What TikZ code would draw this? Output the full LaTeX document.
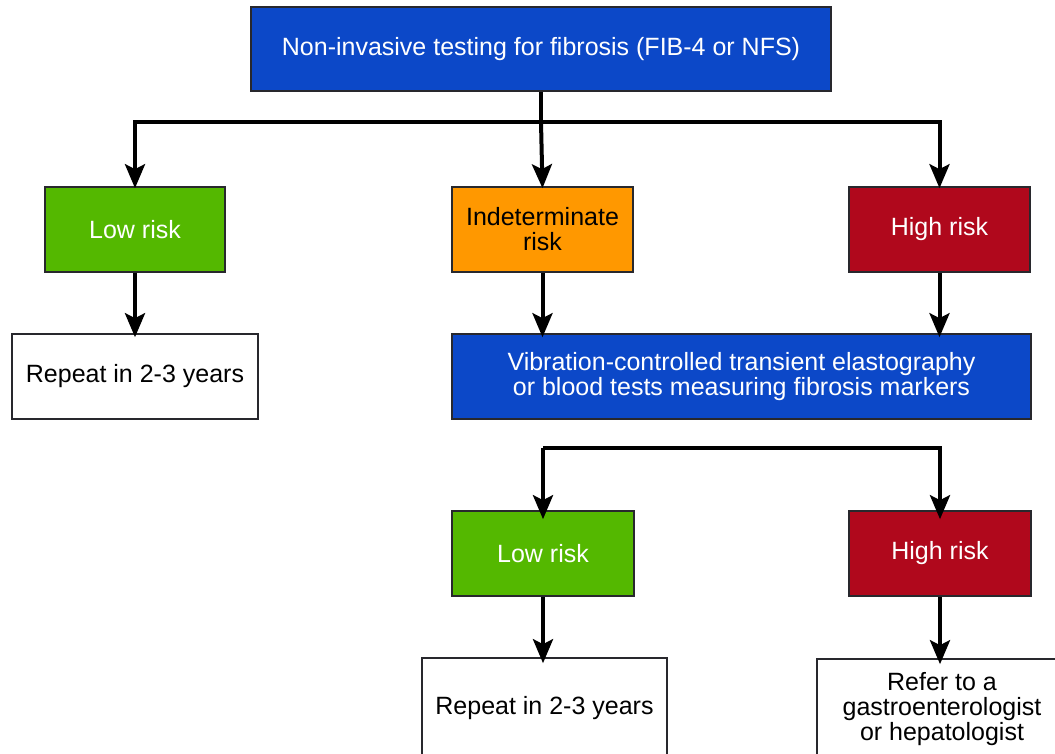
\documentclass[tikz,border=0pt]{standalone}
\usepackage{fontspec}
\setmainfont{Liberation Sans}
\usetikzlibrary{arrows.meta}
\definecolor{boxblue}{RGB}{12,72,200}
\definecolor{boxgreen}{RGB}{84,184,0}
\definecolor{boxorange}{RGB}{255,152,0}
\definecolor{boxred}{RGB}{176,8,28}
\definecolor{edgegray}{RGB}{40,40,45}
\begin{document}
\begin{tikzpicture}[x=1pt,y=-1pt,
  box/.style={draw=edgegray,line width=1.6pt,rectangle,inner sep=0pt,align=center,
    font=\fontsize{25}{25}\selectfont},
  fillbox/.style={box,text=white},
  bluebox/.style={fillbox,fill=boxblue},
  greenbox/.style={fillbox,fill=boxgreen},
  orangebox/.style={box,fill=boxorange,text=black},
  redbox/.style={fillbox,fill=boxred},
  whitebox/.style={box,fill=white,text=black},
  conn/.style={line width=4pt,miter limit=10,-{Stealth[length=24pt,width=20pt,inset=5pt]}},
  trunk/.style={line width=4pt}]
\useasboundingbox (0,0) rectangle (1055,754);
\begin{scope}
\clip (0,0) rectangle (1055,754);
% first level
\node[bluebox,minimum width=580pt,minimum height=84pt] (top) at (541,49)
  {Non-invasive testing for fibrosis (FIB-4 or NFS)};
\node[greenbox,minimum width=180pt,minimum height=85pt] (low1) at (135,229.5) {Low risk};
\node[orangebox,minimum width=181pt,minimum height=85pt] (ind) at (542.5,229.5) {Indeterminate\\risk};
\node[redbox,minimum width=181pt,minimum height=85pt] (high1) at (939.5,229.5) {High risk};
% second level
\node[whitebox,minimum width=246pt,minimum height=85pt] (rep1) at (135,376.5) {Repeat in 2-3 years};
\node[bluebox,minimum width=579pt,minimum height=85pt] (vcte) at (741.5,376.5)
  {Vibration-controlled transient elastography\\or blood tests measuring fibrosis markers};
% third level
\node[greenbox,minimum width=182pt,minimum height=85pt] (low2) at (543,553.5) {Low risk};
\node[redbox,minimum width=182pt,minimum height=85pt] (high2) at (940,553.5) {High risk};
% final level (runs past the lower edge)
\node[whitebox,minimum width=245pt,minimum height=100pt] (rep2) at (544.5,708) {Repeat in 2-3 years};
\node[whitebox,minimum width=250pt,minimum height=100pt] (refer) at (942,709)
  {Refer to a\\gastroenterologist\\or hepatologist};
\end{scope}
% split below the first test
\coordinate (split1) at (top.south |- 0,122);
\draw[trunk] (top.south) -- (split1);
\draw[conn] (split1) -| ([yshift=-2pt]low1.north);
\draw[conn] (split1) -- ([yshift=-2pt]ind.north);
\draw[conn] (split1) -| ([yshift=-2pt]high1.north);
% second-level arrows
\draw[conn] (low1.south) -- ([yshift=-4pt]rep1.north);
\draw[conn] (ind.south) -- ([yshift=-4pt]ind.south |- vcte.north);
\draw[conn] (high1.south) -- ([yshift=-4pt]high1.south |- vcte.north);
% split below the second test
\coordinate (split2) at (low2.north |- 0,448);
\draw[conn] (split2) -- ([yshift=-9pt]low2.north);
\draw[conn] (split2) -| ([yshift=-9pt]high2.north);
% final arrows
\draw[conn] (low2.south) -- ([yshift=-6pt]low2.south |- rep2.north);
\draw[conn] (high2.south) -- ([yshift=-6pt]high2.south |- refer.north);
\end{tikzpicture}
\end{document}
